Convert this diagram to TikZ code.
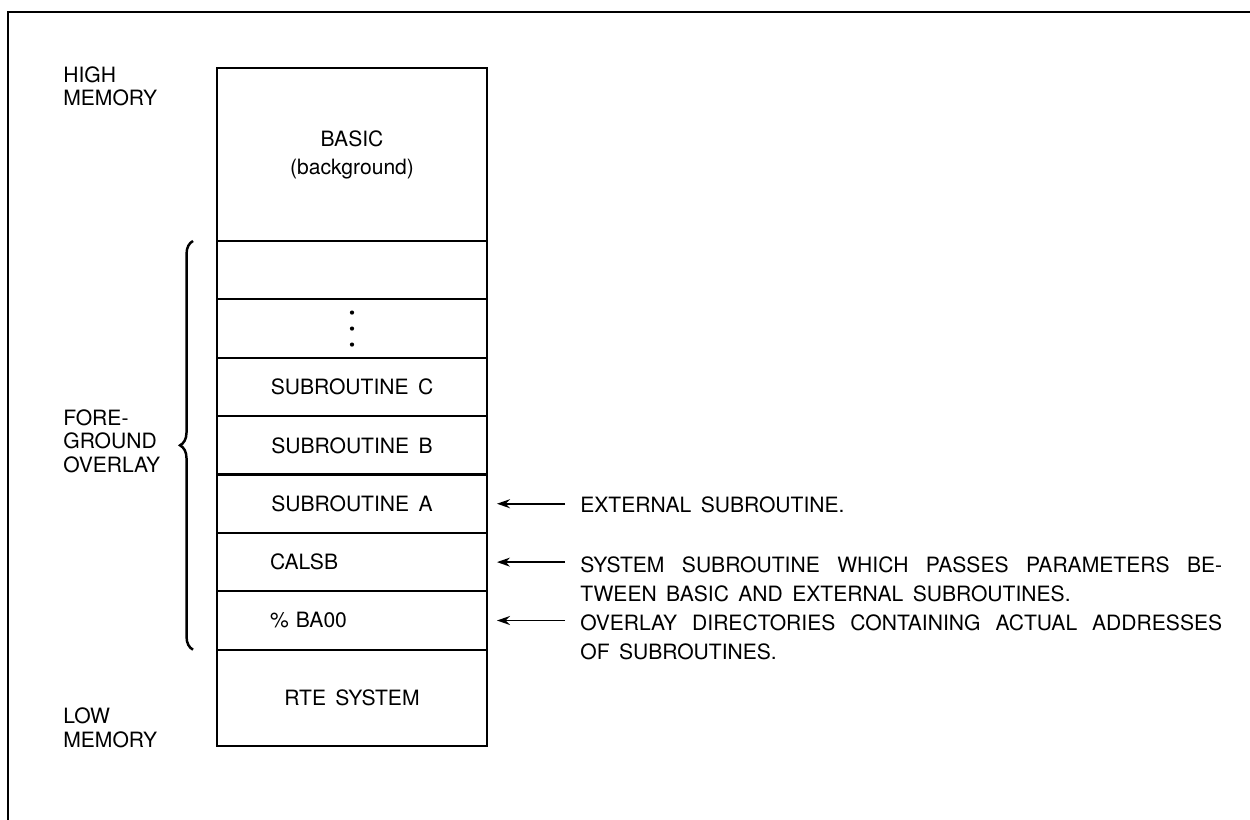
\documentclass[tikz,border=0pt]{standalone}
\usepackage{fontspec}
\setmainfont{TeX Gyre Heros}[WordSpace=1.6]
\usetikzlibrary{arrows.meta,positioning,calc,decorations.pathreplacing}
\tikzset{
  membox/.style={draw, line width=1.2pt, minimum width=5.4cm, minimum height=1.168cm,
                 outer sep=0pt, inner sep=0pt, align=center, font=\fontsize{12}{16}\selectfont},
  leftbox/.style={membox, text width=3.28cm, align=left},
  sidelabel/.style={anchor=north west, inner sep=0pt, align=left, font=\fontsize{12}{13.6}\selectfont},
  notetext/.style={anchor=north west, inner sep=0pt, text width=12.84cm, align=justify,
                   font=\fontsize{12}{16.5}\selectfont},
  arr/.style={-{Stealth[length=2.6mm,width=1.8mm]}, line width=0.9pt},
  frameline/.style={line width=1.3pt}}
\begin{document}
\begin{tikzpicture}[x=0.02cm, y=-0.02cm]
    \useasboundingbox (0,0) rectangle (1250,820);
    \draw[frameline] (8,820) -- (8,12) -- (1250,12);
    % memory map
    \node[membox, minimum height=3.46cm] (basic) at (352,154.5) {BASIC\\(background)};
    \node[membox, below=0pt of basic] (blank) {};
    \node[membox, below=0pt of blank] (dots) {};
    \node[membox, below=0pt of dots] (subc) {SUBROUTINE C};
    \node[membox, below=0pt of subc] (subb) {SUBROUTINE B};
    \node[membox, below=0pt of subb] (suba) {SUBROUTINE A};
    \node[leftbox, below=0pt of suba] (calsb) {CALSB};
    \node[leftbox, below=0pt of calsb] (dirs) {\% BA00};
    \node[membox, minimum height=1.92cm, below=0pt of dirs] (rte) {RTE SYSTEM};
    \foreach \dy in {-16,0,16}
      \fill ($(dots.center)+(0,\dy)$) circle (1.2pt);
    % side labels
    \node[sidelabel] (high) at (63,66) {HIGH\\MEMORY};
    \node[sidelabel] (fore) at (63,409) {FORE-\\GROUND\\OVERLAY};
    \node[sidelabel] (low) at (63,707) {LOW\\MEMORY};
    \draw[decorate, decoration={brace, amplitude=0.26cm}, line width=1.4pt]
      ($(dirs.south west)+(-24,0)$) -- ($(blank.north west)+(-24,0)$);
    % notes
    \node[notetext] (notea) at (580,496) {EXTERNAL SUBROUTINE.};
    \node[notetext] (notecalsb) at (580,556)
      {SYSTEM SUBROUTINE WHICH PASSES PARAMETERS BE-\linebreak TWEEN BASIC AND EXTERNAL SUBROUTINES.};
    \node[notetext] (notedirs) at (580,614)
      {OVERLAY DIRECTORIES CONTAINING ACTUAL ADDRESSES\linebreak OF SUBROUTINES.};
    \draw[arr] ($(notea.north west |- suba.east)+(-15,0)$) -- ($(suba.east)+(10,0)$);
    \draw[arr] ($(notecalsb.north west |- calsb.east)+(-15,0)$) -- ($(calsb.east)+(10,0)$);
    \draw[arr] ($(notedirs.north west |- dirs.east)+(-15,0)$) -- ($(dirs.east)+(10,0)$);
  \end{tikzpicture}
\end{document}
